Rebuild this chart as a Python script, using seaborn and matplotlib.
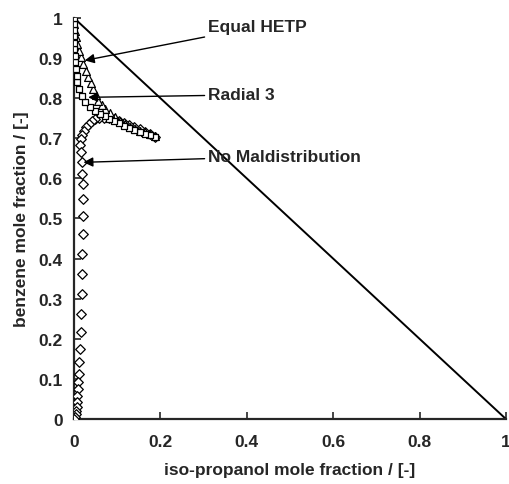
import numpy as np
import pandas as pd
import matplotlib
matplotlib.use('Agg')
import matplotlib.pyplot as plt
import seaborn as sns

# No Maldistribution (diamonds)
x_nm = [0.188, 0.176, 0.164, 0.152, 0.140, 0.128, 0.116, 0.104, 0.092, 0.080, 0.069,
        0.058, 0.049, 0.041, 0.034, 0.028, 0.023, 0.019, 0.016, 0.015, 0.016, 0.018,
        0.019, 0.020, 0.020, 0.020, 0.020, 0.019, 0.019, 0.018, 0.017, 0.016, 0.014,
        0.012, 0.011, 0.010, 0.009, 0.008, 0.007, 0.006, 0.005, 0.004, 0.002, 0.0]
y_nm = [0.704, 0.710, 0.716, 0.722, 0.728, 0.734, 0.739, 0.743, 0.747, 0.750, 0.751,
        0.750, 0.747, 0.742, 0.736, 0.728, 0.719, 0.709, 0.698, 0.683, 0.665, 0.640,
        0.611, 0.586, 0.549, 0.507, 0.461, 0.411, 0.362, 0.312, 0.262, 0.216, 0.175,
        0.142, 0.112, 0.092, 0.075, 0.058, 0.042, 0.030, 0.020, 0.012, 0.005, 0.0]

# Equal HETP (triangles)
x_eh = [0.188, 0.176, 0.164, 0.152, 0.141, 0.129, 0.118, 0.106, 0.095, 0.083, 0.072,
        0.064, 0.056, 0.050, 0.045, 0.039, 0.033, 0.028, 0.022, 0.017, 0.012, 0.008,
        0.005, 0.003, 0.001, 0.0]
y_eh = [0.706, 0.711, 0.715, 0.719, 0.723, 0.729, 0.736, 0.744, 0.752, 0.762, 0.773,
        0.783, 0.794, 0.808, 0.823, 0.838, 0.852, 0.868, 0.885, 0.902, 0.918, 0.935,
        0.952, 0.968, 0.985, 1.0]

# Radial 3 (squares)
x_r3 = [0.188, 0.176, 0.164, 0.152, 0.140, 0.128, 0.116, 0.104, 0.093, 0.082, 0.071,
        0.060, 0.049, 0.037, 0.025, 0.018, 0.012, 0.008, 0.006, 0.004, 0.002, 0.002,
        0.001, 0.001, 0.001, 0.0, 0.0, 0.0]
y_r3 = [0.703, 0.707, 0.711, 0.715, 0.720, 0.725, 0.731, 0.737, 0.743, 0.749, 0.755,
        0.760, 0.769, 0.777, 0.790, 0.806, 0.823, 0.840, 0.856, 0.873, 0.889, 0.905,
        0.922, 0.938, 0.955, 0.970, 0.985, 1.0]

# diagonal (triangle side)
x_diag = [0, 1]
y_diag = [1, 0]

ticks = [0, 0.2, 0.4, 0.6, 0.8, 1]
tick_labels = ['0', '0.2', '0.4', '0.6', '0.8', '1']
yticks = [0, 0.1, 0.2, 0.3, 0.4, 0.5, 0.6, 0.7, 0.8, 0.9, 1]
ytick_labels = ['0', '0.1', '0.2', '0.3', '0.4', '0.5', '0.6', '0.7', '0.8', '0.9', '1']

sns.set_style('ticks')
plt.rcParams['font.family'] = ['Liberation Sans', 'DejaVu Sans']
plt.rcParams['font.weight'] = 'bold'

fig = plt.figure(figsize=(5.1, 4.85), dpi=100)
ax = fig.add_axes([0.145, 0.134, 0.847, 0.827])

ax.plot(x_diag, y_diag, color='black', lw=1.4, zorder=1)

mk = dict(facecolor='white', edgecolor='black', linewidth=0.9, zorder=3, ax=ax)
sns.scatterplot(x=x_nm, y=y_nm, marker='D', s=24, **mk)
sns.scatterplot(x=x_eh, y=y_eh, marker='^', s=32, **mk)
sns.scatterplot(x=x_r3, y=y_r3, marker='s', s=24, **mk)

ax.set_xlim(0, 1)
ax.set_ylim(0, 1)
ax.set_xticks(ticks)
ax.set_xticklabels(tick_labels)
ax.set_yticks(yticks)
ax.set_yticklabels(ytick_labels)
ax.tick_params(direction='in', length=5, width=1.2, labelsize=12.5, pad=11)
ax.tick_params(axis='y', pad=8)
for s in ['top', 'right']:
    ax.spines[s].set_visible(False)
for s in ['left', 'bottom']:
    ax.spines[s].set_linewidth(1.6)

ax.set_xlabel('iso-propanol mole fraction / [-]', fontsize=12.5, fontweight='bold', labelpad=9)
ax.set_ylabel('benzene mole fraction / [-]', fontsize=12.5, fontweight='bold', labelpad=7)

arrow = dict(arrowstyle='-|>', color='black', lw=1, mutation_scale=14, shrinkA=0, shrinkB=0)
ax.annotate('Equal HETP', xy=(0.025, 0.894), xytext=(0.31, 0.978),
            fontsize=12.5, fontweight='bold', va='center', arrowprops=arrow)
ax.annotate('Radial 3', xy=(0.033, 0.802), xytext=(0.31, 0.808),
            fontsize=12.5, fontweight='bold', va='center', arrowprops=arrow)
ax.annotate('No Maldistribution', xy=(0.022, 0.640), xytext=(0.31, 0.655),
            fontsize=12.5, fontweight='bold', va='center', arrowprops=arrow)

plt.savefig('out.png', dpi=100)
